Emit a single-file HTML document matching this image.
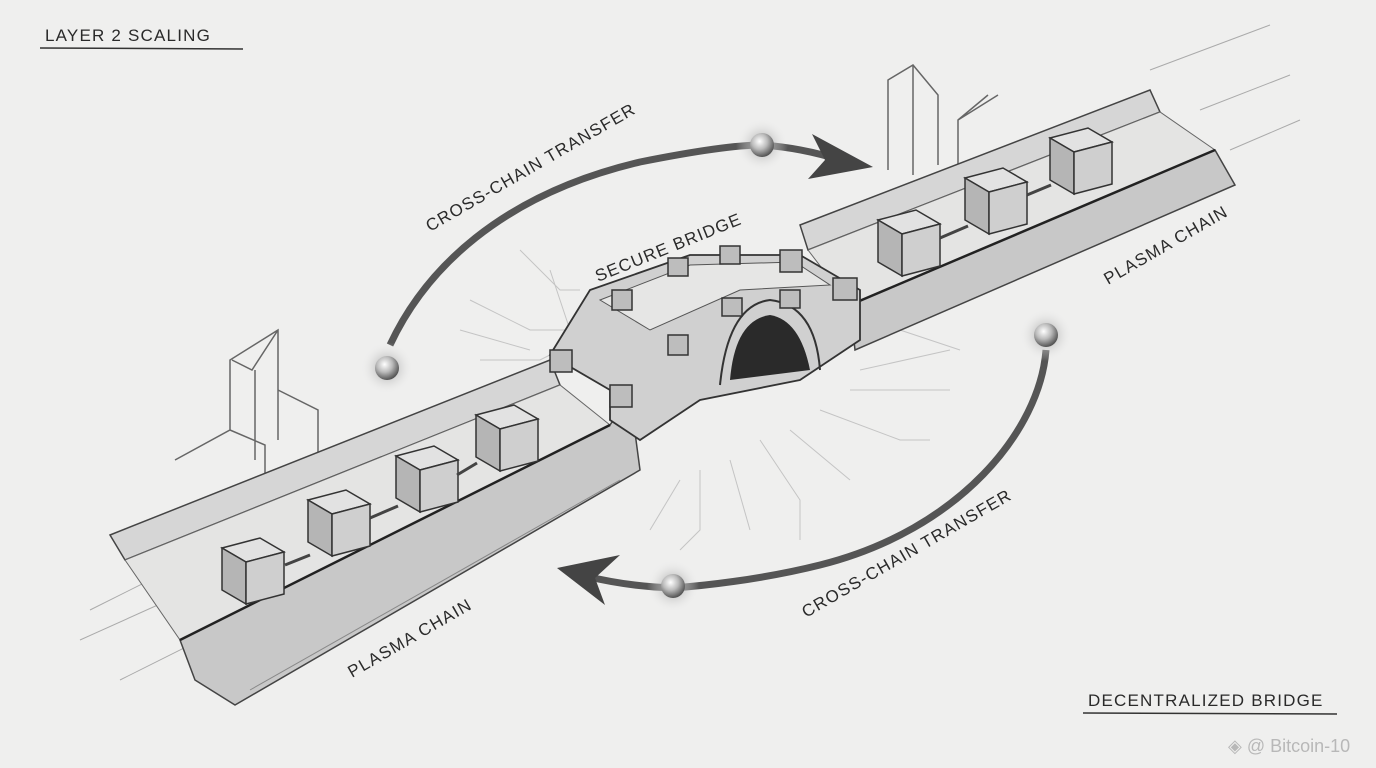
<!DOCTYPE html>
<html><head><meta charset="utf-8"><style>
html,body{margin:0;padding:0;background:#efefee;}
svg{display:block}
text{font-family:"Liberation Sans",sans-serif;fill:#2a2a2a;letter-spacing:1.2px}
</style></head><body>
<svg width="1376" height="768" viewBox="0 0 1376 768" xmlns="http://www.w3.org/2000/svg">
<defs>
<radialGradient id="ball" cx="40%" cy="35%" r="65%"><stop offset="0" stop-color="#fff"/><stop offset="0.5" stop-color="#bbb"/><stop offset="1" stop-color="#555"/></radialGradient>
<radialGradient id="glow"><stop offset="0.4" stop-color="#bbb" stop-opacity="0.6"/><stop offset="1" stop-color="#eee" stop-opacity="0"/></radialGradient>
<g id="cube">
<polygon points="0,10 38,0 62,14 24,24" fill="#e2e2e2" stroke="#333" stroke-width="1.5"/>
<polygon points="0,10 24,24 24,66 0,52" fill="#b5b5b5" stroke="#333" stroke-width="1.5"/>
<polygon points="24,24 62,14 62,56 24,66" fill="#cfcfcf" stroke="#333" stroke-width="1.5"/>
</g>
</defs>
<rect width="1376" height="768" fill="#efefee"/>
<g stroke="#c4c4c4" stroke-width="1" fill="none">
<path d="M470,300 l60,30 l40,0"/><path d="M460,330 l70,20"/><path d="M480,360 l60,0 l30,-15"/><path d="M520,250 l40,40 l20,0"/><path d="M550,270 l20,60"/>
<path d="M700,470 l0,60 l-20,20"/><path d="M730,460 l20,70"/><path d="M760,440 l40,60 l0,40"/><path d="M790,430 l60,50"/><path d="M820,410 l80,30 l30,0"/><path d="M850,390 l100,0"/><path d="M860,370 l90,-20"/><path d="M680,480 l-30,50"/>
<path d="M900,330 l60,20"/><path d="M930,300 l40,0"/>
</g>
<g fill="none" stroke="#666" stroke-width="1.5">
<path d="M175,460 l55,-30 l35,15 l0,60 M230,430 l0,-70 l48,-30 l0,110 M232,360 l20,10 l26,-40 M255,370 l0,90 M278,390 l40,20 l0,60 M200,500 l65,-20"/>
<path d="M888,170 l0,-90 l25,-15 l25,30 l0,70 M913,65 l0,110 M958,170 l0,-50 l40,-25 M958,120 l30,-25"/>
</g>
<g stroke="#aaa" stroke-width="1">
<path d="M90,610 l120,-60"/><path d="M80,640 l100,-45"/><path d="M120,680 l110,-55"/><path d="M1150,70 l120,-45"/><path d="M1200,110 l90,-35"/><path d="M1230,150 l70,-30"/>
</g>
<polygon points="110,535 550,360 560,385 125,560" fill="#d6d6d6" stroke="#444" stroke-width="1.5"/>
<polygon points="125,560 560,385 610,425 180,640" fill="#e4e4e3" stroke="#666" stroke-width="1"/>
<polygon points="180,640 610,425 630,395 640,470 235,705 195,680" fill="#c8c8c8" stroke="#444" stroke-width="1.5"/>
<path d="M180,640 L610,425" stroke="#222" stroke-width="2.5"/>
<path d="M250,690 L620,480" stroke="#888" stroke-width="1"/>
<polygon points="800,225 1150,90 1160,112 808,250" fill="#d6d6d6" stroke="#444" stroke-width="1.5"/>
<polygon points="808,250 1160,112 1215,150 850,305" fill="#e4e4e3" stroke="#666" stroke-width="1"/>
<polygon points="850,305 1215,150 1235,185 855,350" fill="#c8c8c8" stroke="#444" stroke-width="1.5"/>
<path d="M850,305 L1215,150" stroke="#222" stroke-width="2.5"/>
<polygon points="550,355 590,290 690,255 800,255 860,290 860,340 800,380 700,400 640,440 610,420 610,390" fill="#d0d0d0" stroke="#333" stroke-width="1.8"/>
<polygon points="600,300 690,265 795,262 830,285 740,290 650,330" fill="#e6e6e5" stroke="#555"/>
<path d="M730,380 Q735,320 770,315 Q800,320 810,370 Z" fill="#2a2a2a"/>
<path d="M720,385 Q728,305 770,300 Q815,305 820,370" fill="none" stroke="#333" stroke-width="2"/>
<g fill="#bdbdbd" stroke="#333" stroke-width="1.5">
<rect x="550" y="350" width="22" height="22"/><rect x="612" y="290" width="20" height="20"/><rect x="668" y="258" width="20" height="18"/><rect x="720" y="246" width="20" height="18"/><rect x="780" y="250" width="22" height="22"/>
<rect x="610" y="385" width="22" height="22"/><rect x="668" y="335" width="20" height="20"/><rect x="722" y="298" width="20" height="18"/><rect x="780" y="290" width="20" height="18"/><rect x="833" y="278" width="24" height="22"/>
</g>
<use href="#cube" x="222" y="538"/><use href="#cube" x="308" y="490"/><use href="#cube" x="396" y="446"/><use href="#cube" x="476" y="405"/>
<use href="#cube" x="878" y="210"/><use href="#cube" x="965" y="168"/><use href="#cube" x="1050" y="128"/>
<g stroke="#444" stroke-width="3"><path d="M285,565 l25,-10 M370,518 l28,-12 M457,475 l20,-12 M940,238 l28,-12 M1027,195 l24,-10"/></g>
<path d="M390,345 C425,270 500,195 640,162 C700,150 740,145 762,145 C790,147 815,152 840,160" fill="none" stroke="#555" stroke-width="7"/>
<polygon points="812,134 873,167 808,179 825,160" fill="#444"/>
<path d="M1046,350 C1040,430 960,530 820,565 C760,580 700,586 673,588 C640,587 610,582 585,576" fill="none" stroke="#555" stroke-width="7"/>
<polygon points="620,555 557,568 605,605 595,578" fill="#444"/>
<circle cx="762" cy="145" r="26" fill="url(#glow)"/><circle cx="762" cy="145" r="12" fill="url(#ball)"/>
<circle cx="387" cy="368" r="26" fill="url(#glow)"/><circle cx="387" cy="368" r="12" fill="url(#ball)"/>
<circle cx="1046" cy="335" r="26" fill="url(#glow)"/><circle cx="1046" cy="335" r="12" fill="url(#ball)"/>
<circle cx="673" cy="586" r="26" fill="url(#glow)"/><circle cx="673" cy="586" r="12" fill="url(#ball)"/>
<text x="45" y="41" font-size="17">LAYER 2 SCALING</text>
<path d="M40,48 L243,49" stroke="#333" stroke-width="1.5"/>
<text font-size="17" transform="translate(430,232) rotate(-30)">CROSS-CHAIN TRANSFER</text>
<text font-size="17" transform="translate(598,282) rotate(-22)">SECURE BRIDGE</text>
<text font-size="17" transform="translate(1108,285) rotate(-30)">PLASMA CHAIN</text>
<text font-size="17" transform="translate(352,678) rotate(-30)">PLASMA CHAIN</text>
<text font-size="17" transform="translate(806,618) rotate(-30)">CROSS-CHAIN TRANSFER</text>
<text x="1088" y="706" font-size="17">DECENTRALIZED BRIDGE</text>
<path d="M1083,713 L1337,714" stroke="#333" stroke-width="1.5"/>
<text x="1228" y="752" font-size="18" style="fill:#b8b8b8;letter-spacing:0">◈ @ Bitcoin-10</text>
</svg>
</body></html>
